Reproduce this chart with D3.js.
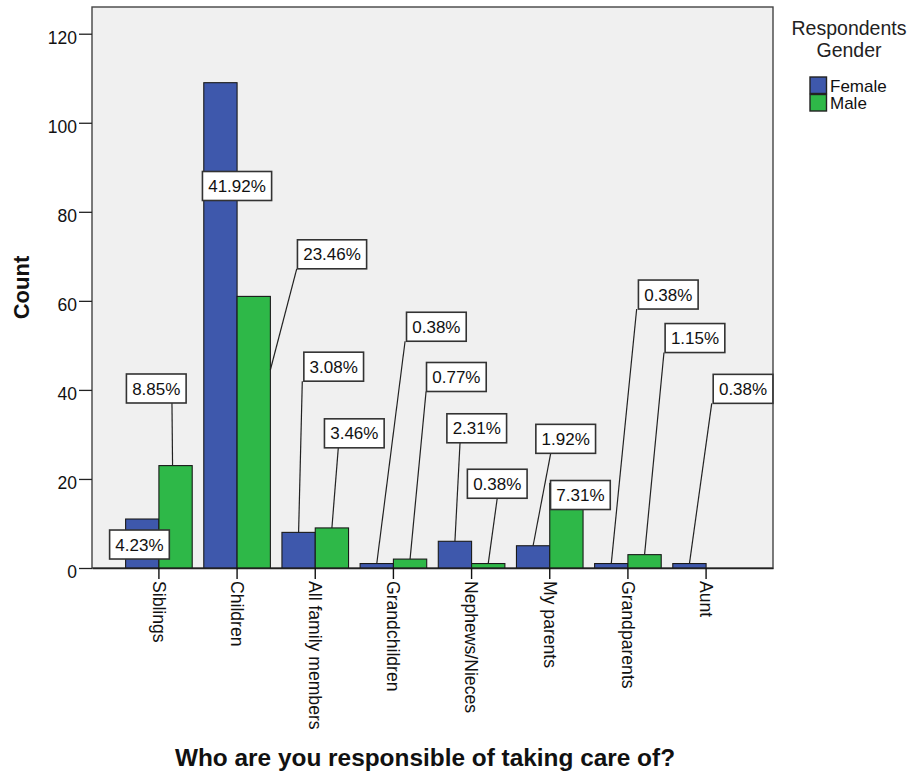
<!DOCTYPE html>
<html>
<head>
<meta charset="utf-8">
<script src="https://cdn.jsdelivr.net/npm/d3@7"></script>
<style>
  html, body { margin: 0; padding: 0; background: #ffffff; }
  svg { display: block; font-family: "Liberation Sans", Arial, sans-serif; }
</style>
</head>
<body>
<script>
// Who respondents take care of, counted by gender
const categories = ["Siblings", "Children", "All family members", "Grandchildren",
                    "Nephews/Nieces", "My parents", "Grandparents", "Aunt"];
const genders = ["Female", "Male"];
const femaleCounts = [11, 109, 8, 1, 6, 5, 1, 1];
const maleCounts   = [23, 61, 9, 2, 1, 19, 3, 0];
const yTickValues  = [0, 20, 40, 60, 80, 100, 120];

const genderColors = { Female: "#3e58ac", Male: "#2eb848" };

// Placement of each percentage callout, relative to the top centre of its bar (px).
// sx: where the leader leaves the box bottom (from box centre); ex/ey: leader end offset.
const calloutLayout = {
  Female: [
    { dx: -2.8, dy: 25.5 },
    { dx: 16.6, dy: 103.3 },
    { dx: 35.1, dy: -165.7, sx: -31.4 },
    { dx: 59.6, dy: -236.8, sx: -31.3 },
    { dx: 21.8, dy: -113.0, sx: -16.7 },
    { dx: 32.6, dy: -106.9, sx: -15.0 },
    { dx: 57.0, dy: -269.0, sx: -31.6 },
    { dx: 53.6, dy: -174.7, sx: -31.3 }
  ],
  Male: [
    { dx: -19.3, dy: -77.1, sx: 15.7, ex: -3 },
    { dx: 78.3, dy: -42.1, sx: -35.3, ex: 16.6, ey: 73.6 },
    { dx: 22.4, dy: -94.6, sx: -16.0 },
    { dx: 46.3, dy: -182.1, sx: -30.3 },
    { dx: 9.0, dy: -79.8, sx: 0 },
    { dx: 14.0, dy: 11.6 },
    { dx: 50.4, dy: -216.6, sx: -31.0 },
    null
  ]
};

const W = 915, H = 776;
const plot = { left: 92, top: 7, right: 773, bottom: 568 };

const svg = d3.select("body").append("svg").attr("width", W).attr("height", H);

const x0 = d3.scaleBand().domain(categories)
  .range([plot.left, plot.right]).paddingInner(0.148).paddingOuter(0.43);
const x1 = d3.scaleBand().domain(genders).range([0, x0.bandwidth()]);
const y = d3.scaleLinear().domain([0, 126]).range([plot.bottom, plot.top]);

const countsByGender = { Female: femaleCounts, Male: maleCounts };
const total = d3.sum(femaleCounts) + d3.sum(maleCounts);
const pct = v => d3.format(".2f")(v / total * 100) + "%";

// plot background and frame
svg.append("rect")
  .attr("x", plot.left).attr("y", plot.top)
  .attr("width", plot.right - plot.left).attr("height", plot.bottom - plot.top)
  .attr("fill", "#f0f0f0").attr("stroke", "#444").attr("stroke-width", 1.4);

// y axis
const yAxis = svg.append("g")
  .attr("transform", `translate(${plot.left},0)`)
  .call(d3.axisLeft(y).tickValues(yTickValues).tickSize(13).tickPadding(2).tickFormat(d3.format("d")));
yAxis.select(".domain").remove();
yAxis.selectAll(".tick line").attr("stroke", "#222").attr("stroke-width", 1.3);
yAxis.selectAll(".tick text")
  .attr("fill", "#111").attr("font-size", 17.5).attr("dy", "0.55em")
  .attr("font-family", "'Liberation Sans', Arial, sans-serif");

// bars
const rows = [];
categories.forEach((c, i) => {
  genders.forEach(g => rows.push({ cat: c, i, g, v: countsByGender[g][i] }));
});

const barX = d => x0(d.cat) + x1(d.g);
const barCx = d => barX(d) + x1.bandwidth() / 2;

svg.append("g").selectAll("rect")
  .data(rows.filter(d => d.v > 0))
  .join("rect")
  .attr("x", barX)
  .attr("y", d => y(d.v))
  .attr("width", x1.bandwidth())
  .attr("height", d => y(0) - y(d.v))
  .attr("fill", d => genderColors[d.g])
  .attr("stroke", "#1a1a1a").attr("stroke-width", 1.1);

// x axis
const xAxis = svg.append("g")
  .attr("transform", `translate(0,${plot.bottom})`)
  .call(d3.axisBottom(x0).tickSize(11).tickSizeOuter(0));
xAxis.select(".domain").attr("stroke", "#222").attr("stroke-width", 1.4);
xAxis.selectAll(".tick line").attr("stroke", "#111").attr("stroke-width", 1.4);
xAxis.selectAll(".tick text")
  .attr("transform", "rotate(90)")
  .attr("x", 13).attr("y", 0).attr("dy", "0.35em")
  .attr("text-anchor", "start")
  .attr("fill", "#111").attr("font-size", 17.6)
  .attr("font-family", "'Liberation Sans', Arial, sans-serif");

// percentage callouts
const callouts = rows
  .map(d => ({ ...d, lay: calloutLayout[d.g][d.i] }))
  .filter(d => d.v > 0 && d.lay);

const cg = svg.append("g");
const boxH = 29;

// leaders first so the boxes sit on top
cg.selectAll("line.leader")
  .data(callouts.filter(d => d.lay.sx !== undefined))
  .join("line")
  .attr("class", "leader")
  .attr("x1", d => barCx(d) + d.lay.dx + d.lay.sx)
  .attr("y1", d => y(d.v) + d.lay.dy + boxH / 2)
  .attr("x2", d => barCx(d) + (d.lay.ex || 0))
  .attr("y2", d => y(d.v) + (d.lay.ey || 0))
  .attr("stroke", "#222").attr("stroke-width", 1.2);

const boxes = cg.selectAll("g.callout")
  .data(callouts)
  .join("g")
  .attr("class", "callout")
  .attr("transform", d => `translate(${barCx(d) + d.lay.dx},${y(d.v) + d.lay.dy})`);

boxes.append("rect").attr("fill", "#ffffff").attr("stroke", "#333").attr("stroke-width", 1.6);
boxes.append("text")
  .attr("text-anchor", "middle").attr("dy", "0.36em")
  .attr("font-size", 17).attr("fill", "#111")
  .text(d => pct(d.v));
boxes.each(function () {
  const g = d3.select(this);
  const w = g.select("text").node().getComputedTextLength() + 11.5;
  g.select("rect").attr("x", -w / 2).attr("y", -boxH / 2).attr("width", w).attr("height", boxH);
});

// legend
const legX = 849;
const legend = svg.append("g");
legend.append("text").attr("x", legX).attr("y", 35).attr("text-anchor", "middle")
  .attr("font-size", 19.5).attr("fill", "#222").text("Respondents");
legend.append("text").attr("x", legX).attr("y", 57).attr("text-anchor", "middle")
  .attr("font-size", 19.5).attr("fill", "#222").text("Gender");
const items = legend.selectAll("g.item").data(genders).join("g")
  .attr("class", "item")
  .attr("transform", (d, i) => `translate(810,${77 + i * 17.5})`);
items.append("rect").attr("width", 16.5).attr("height", 16.5)
  .attr("fill", d => genderColors[d]).attr("stroke", "#222").attr("stroke-width", 1.4);
items.append("text").attr("x", 20).attr("y", 14.5)
  .attr("font-size", 17).attr("fill", "#111").text(d => d);

// axis titles
svg.append("text")
  .attr("transform", `translate(29,${(plot.top + plot.bottom) / 2}) rotate(-90)`)
  .attr("text-anchor", "middle").attr("font-size", 22).attr("font-weight", "bold")
  .attr("fill", "#111").text("Count");
svg.append("text")
  .attr("x", 425).attr("y", 766)
  .attr("text-anchor", "middle").attr("font-size", 24.4).attr("font-weight", "bold")
  .attr("fill", "#111").text("Who are you responsible of taking care of?");
</script>
</body>
</html>
